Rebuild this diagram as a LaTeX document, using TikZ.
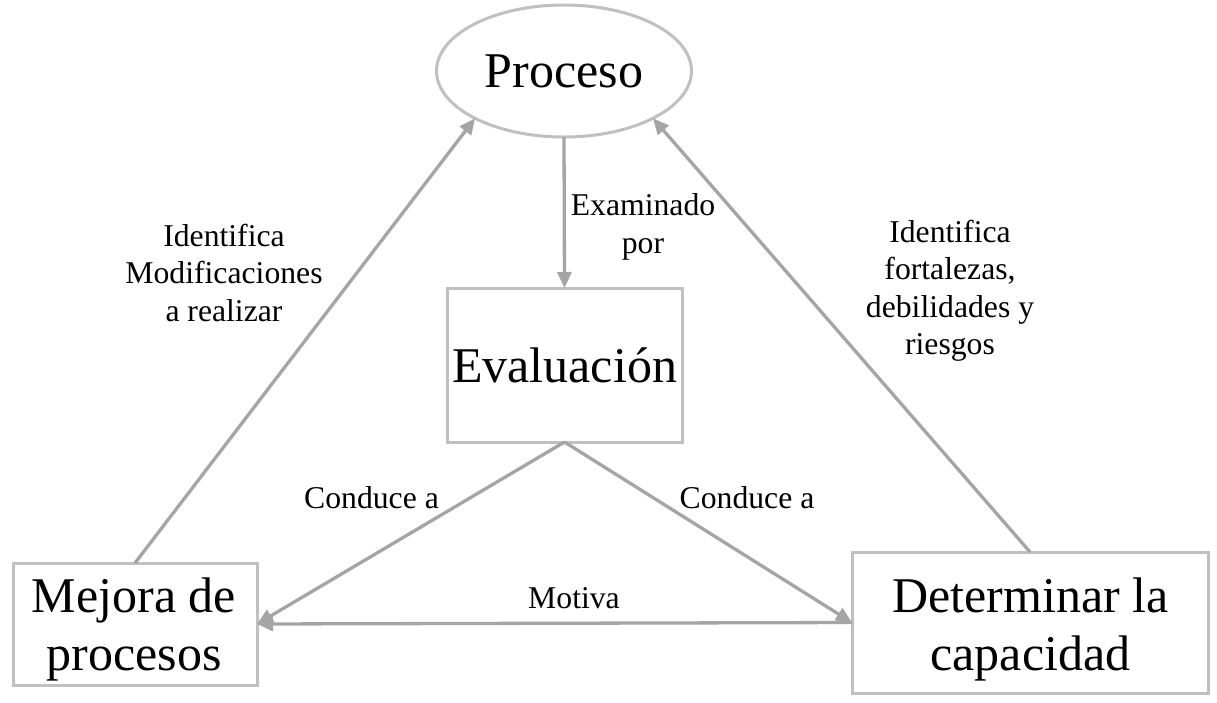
\documentclass[tikz,border=0pt]{standalone}
\usepackage{fontspec}
\setmainfont{Liberation Serif}
\usetikzlibrary{shapes.geometric,arrows.meta}
\definecolor{arrowgray}{RGB}{165,165,165}
\definecolor{boxgray}{RGB}{192,192,192}
\tikzset{
  bigtext/.style={font=\fontsize{50}{58}\selectfont, align=center, inner sep=0pt},
  smalltext/.style={font=\fontsize{31.7}{37.5}\selectfont, align=center, inner sep=0pt},
  boxnode/.style={draw=boxgray, line width=3pt, rectangle, inner sep=2pt, outer sep=0pt, bigtext},
  ellnode/.style={draw=boxgray, line width=3pt, ellipse, inner sep=0pt, outer sep=0pt, bigtext},
  conn/.style={draw=arrowgray, line width=3.3pt, -{Triangle[length=16pt,width=14pt]}}
}
\begin{document}
\begin{tikzpicture}[x=1pt,y=-1pt]
\useasboundingbox[fill=white] (0,0) rectangle (1217,702);

\node[ellnode, minimum width=255pt, minimum height=132pt] (proceso) at (564,71) {Proceso};
\node[boxnode, minimum width=235pt, minimum height=154pt] (evaluacion) at (564.5,365) {Evaluación};
\node[boxnode, minimum width=244pt, minimum height=122pt] (mejora) at (135,624) {};
\node[boxnode, minimum width=356pt, minimum height=141pt] (determinar) at (1030,622.5) {};
\node[bigtext] (tmejora) at (134,629.3) {Mejora de\\procesos};
\node[bigtext] (tdeterminar) at (1030.5,629.3) {Determinar la\\capacidad};

\draw[conn] (proceso.south) -- (evaluacion.north);
\draw[conn] (mejora.north) -- (proceso.208);
\draw[conn] (determinar.north) -- (proceso.332);
\draw[conn] (evaluacion.south) -- (mejora.east);
\draw[conn] (evaluacion.south) -- (determinar.west);
\draw[conn] (determinar.west) -- (mejora.east);

\node[smalltext] (lexam) at (643,227) {Examinado\\por};
\node[smalltext] (lmodif) at (224,272.5) {Identifica\\Modificaciones\\a realizar};
\node[smalltext] (lfort) at (950,291) {Identifica\\fortalezas,\\debilidades y\\riesgos};
\node[smalltext, anchor=base] (lcond1) at (371.5,508) {Conduce a};
\node[smalltext, anchor=base] (lcond2) at (747,508) {Conduce a};
\node[smalltext, anchor=base] (lmotiva) at (574,608) {Motiva};
\end{tikzpicture}
\end{document}
